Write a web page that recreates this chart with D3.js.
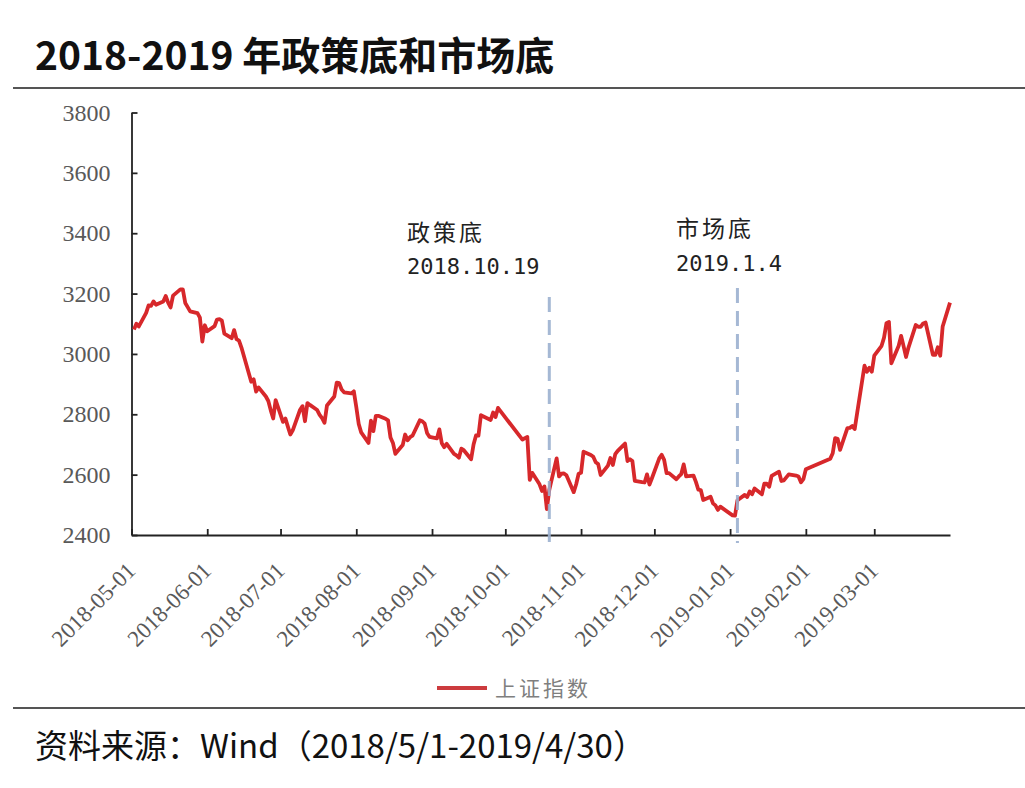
<!DOCTYPE html>
<html><head><meta charset="utf-8">
<script src="https://cdn.jsdelivr.net/npm/d3@7"></script>
<style>html,body{margin:0;padding:0;background:#fff;} svg{display:block;}</style>
</head><body><svg id="chart" width="1025" height="788"></svg>
<script>
// ---------------- data ----------------
const tradeDates = [
"2018-05-02","2018-05-03","2018-05-04","2018-05-07","2018-05-08","2018-05-09","2018-05-10","2018-05-11","2018-05-14","2018-05-15","2018-05-16","2018-05-17","2018-05-18","2018-05-21","2018-05-22","2018-05-23","2018-05-24","2018-05-25","2018-05-28","2018-05-29","2018-05-30","2018-05-31",
"2018-06-01","2018-06-04","2018-06-05","2018-06-06","2018-06-07","2018-06-08","2018-06-11","2018-06-12","2018-06-13","2018-06-14","2018-06-15","2018-06-19","2018-06-20","2018-06-21","2018-06-22","2018-06-25","2018-06-26","2018-06-27","2018-06-28","2018-06-29",
"2018-07-02","2018-07-03","2018-07-04","2018-07-05","2018-07-06","2018-07-09","2018-07-10","2018-07-11","2018-07-12","2018-07-13","2018-07-16","2018-07-17","2018-07-18","2018-07-19","2018-07-20","2018-07-23","2018-07-24","2018-07-25","2018-07-26","2018-07-27","2018-07-30","2018-07-31",
"2018-08-01","2018-08-02","2018-08-03","2018-08-06","2018-08-07","2018-08-08","2018-08-09","2018-08-10","2018-08-13","2018-08-14","2018-08-15","2018-08-16","2018-08-17","2018-08-20","2018-08-21","2018-08-22","2018-08-23","2018-08-24","2018-08-27","2018-08-28","2018-08-29","2018-08-30","2018-08-31",
"2018-09-03","2018-09-04","2018-09-05","2018-09-06","2018-09-07","2018-09-10","2018-09-11","2018-09-12","2018-09-13","2018-09-14","2018-09-17","2018-09-18","2018-09-19","2018-09-20","2018-09-21","2018-09-25","2018-09-26","2018-09-27","2018-09-28",
"2018-10-08","2018-10-09","2018-10-10","2018-10-11","2018-10-12","2018-10-15","2018-10-16","2018-10-17","2018-10-18","2018-10-19","2018-10-22","2018-10-23","2018-10-24","2018-10-25","2018-10-26","2018-10-29","2018-10-30","2018-10-31",
"2018-11-01","2018-11-02","2018-11-05","2018-11-06","2018-11-07","2018-11-08","2018-11-09","2018-11-12","2018-11-13","2018-11-14","2018-11-15","2018-11-16","2018-11-19","2018-11-20","2018-11-21","2018-11-22","2018-11-23","2018-11-26","2018-11-27","2018-11-28","2018-11-29","2018-11-30",
"2018-12-03","2018-12-04","2018-12-05","2018-12-06","2018-12-07","2018-12-10","2018-12-11","2018-12-12","2018-12-13","2018-12-14","2018-12-17","2018-12-18","2018-12-19","2018-12-20","2018-12-21","2018-12-24","2018-12-25","2018-12-26","2018-12-27","2018-12-28",
"2019-01-02","2019-01-03","2019-01-04","2019-01-07","2019-01-08","2019-01-09","2019-01-10","2019-01-11","2019-01-14","2019-01-15","2019-01-16","2019-01-17","2019-01-18","2019-01-21","2019-01-22","2019-01-23","2019-01-24","2019-01-25","2019-01-28","2019-01-29","2019-01-30","2019-01-31",
"2019-02-01","2019-02-11","2019-02-12","2019-02-13","2019-02-14","2019-02-15","2019-02-18","2019-02-19","2019-02-20","2019-02-21","2019-02-22","2019-02-25","2019-02-26","2019-02-27","2019-02-28",
"2019-03-01","2019-03-04","2019-03-05","2019-03-06","2019-03-07","2019-03-08","2019-03-11","2019-03-12","2019-03-13","2019-03-14","2019-03-15","2019-03-18","2019-03-19","2019-03-20","2019-03-21","2019-03-22","2019-03-25","2019-03-26","2019-03-27","2019-03-28","2019-03-29",
"2019-04-01"
];
const closes = [
3081,3100,3091,3136,3161,3159,3174,3163,3174,3192,3170,3154,3193,3214,3214,3169,3155,3141,3135,3120,3041,3095,
3075,3092,3114,3115,3110,3067,3052,3079,3049,3044,3021,2908,2916,2875,2889,2859,2844,2813,2786,2847,
2775,2786,2759,2733,2747,2815,2827,2777,2837,2831,2814,2798,2787,2772,2829,2859,2905,2903,2882,2873,2869,2876,
2824,2768,2740,2705,2779,2744,2795,2795,2785,2780,2723,2705,2669,2698,2733,2714,2724,2729,2780,2777,2769,2737,2725,
2720,2750,2704,2691,2702,2669,2664,2656,2686,2681,2651,2700,2730,2729,2797,2781,2806,2791,2821,
2716,2721,2725,2583,2606,2568,2546,2561,2486,2550,2654,2594,2603,2604,2598,2542,2568,2603,
2606,2676,2665,2659,2641,2635,2599,2630,2655,2632,2668,2679,2703,2645,2651,2645,2579,2575,2574,2601,2567,2588,
2654,2666,2649,2605,2605,2585,2594,2602,2634,2594,2597,2576,2550,2549,2516,2527,2505,2498,2483,2494,
2465,2464,2515,2533,2526,2544,2535,2554,2535,2570,2570,2560,2596,2610,2579,2581,2591,2601,2597,2594,2575,2585,
2618,2653,2671,2721,2719,2682,2754,2755,2761,2751,2804,2961,2941,2954,2941,
2994,3027,3054,3102,3106,2969,3027,3060,3026,2990,3021,3096,3090,3090,3101,3104,2997,2997,3022,2994,3091,
3170
];
const xTickDates = ["2018-05-01","2018-06-01","2018-07-01","2018-08-01","2018-09-01","2018-10-01","2018-11-01","2018-12-01","2019-01-01","2019-02-01","2019-03-01"];
const xDomain = ["2018-05-01","2019-04-01"];
const yTicks = [2400,2600,2800,3000,3200,3400,3600,3800];
const markerDates = ["2018-10-19","2019-01-04"];
const markerNames = ["政策底","市场底"];
const markerLabels = ["2018.10.19","2019.1.4"];
const seriesName = "上证指数";
const titleText = "2018-2019 年政策底和市场底";
const sourceText = "资料来源：Wind（2018/5/1-2019/4/30）";

// ---------------- layout / style ----------------
const markerTopY = [297, 288];
const markerLabelX = [407, 676];
const markerNameY = [241, 237];
const markerLabelY = [274, 271];

const parse = d3.timeParse("%Y-%m-%d");
const svg = d3.select("#chart");
const x = d3.scaleTime().domain(xDomain.map(parse)).range([131.5, 950]);
const y = d3.scaleLinear().domain([2400, 3800]).range([535, 112.5]);

// title
svg.append("text").attr("x", 35).attr("y", 70)
  .attr("font-family", "'Noto Sans CJK SC', sans-serif").attr("font-weight", 700)
  .attr("font-size", 39).attr("fill", "#111").text(titleText);
svg.append("line").attr("x1", 13).attr("x2", 1025).attr("y1", 88).attr("y2", 88)
  .attr("stroke", "#555").attr("stroke-width", 2);

// axes
const axisFont = "'Liberation Serif', 'Times New Roman', serif";
const gx = svg.append("g").attr("transform", "translate(0,535)")
  .call(d3.axisBottom(x).tickValues(xTickDates.map(parse))
    .tickFormat(d3.timeFormat("%Y-%m-%d")).tickSizeInner(-6).tickSizeOuter(0).tickPadding(0));
gx.selectAll("text").attr("y", 0).attr("dy", 0).attr("text-anchor", "end")
  .attr("transform", "translate(5,37) rotate(-45)");
const gy = svg.append("g").attr("transform", "translate(131.5,0)")
  .call(d3.axisLeft(y).tickValues(yTicks).tickFormat(d3.format("d"))
    .tickSizeInner(-6).tickSizeOuter(0).tickPadding(21));
[gx, gy].forEach(g => {
  g.select(".domain").attr("stroke", "#222").attr("stroke-width", 1.8);
  g.selectAll(".tick line").attr("stroke", "#222").attr("stroke-width", 1.8);
  g.selectAll("text").attr("font-family", axisFont).attr("fill", "#595959");
});
gx.selectAll("text").attr("font-size", 23);
gy.selectAll("text").attr("font-size", 24);

// series
const data = tradeDates.map((d, i) => ({ date: parse(d), value: closes[i] }));
svg.append("path").datum(data)
  .attr("fill", "none").attr("stroke", "#d7282b").attr("stroke-width", 3.8)
  .attr("stroke-linejoin", "round")
  .attr("d", d3.line().x(d => x(d.date)).y(d => y(d.value)));

// marker dashed lines + labels
markerDates.forEach((d, i) => {
  const mx = x(parse(d));
  svg.append("line").attr("x1", mx).attr("x2", mx).attr("y1", markerTopY[i]).attr("y2", 543)
    .attr("stroke", "#9cb1d0").attr("stroke-width", 3).attr("stroke-dasharray", "15,8")
    .attr("opacity", 0.9);
  svg.append("text").attr("x", markerLabelX[i]).attr("y", markerNameY[i])
    .attr("font-family", "'Noto Sans CJK SC', sans-serif").attr("font-size", 23)
    .attr("letter-spacing", 3).attr("fill", "#222").text(markerNames[i]);
  svg.append("text").attr("x", markerLabelX[i]).attr("y", markerLabelY[i])
    .attr("font-family", "'DejaVu Sans Mono', monospace").attr("font-size", 22)
    .attr("fill", "#222").text(markerLabels[i]);
});

// legend
svg.append("line").attr("x1", 437).attr("x2", 487).attr("y1", 688).attr("y2", 688)
  .attr("stroke", "#cc3b3e").attr("stroke-width", 4);
svg.append("text").attr("x", 495).attr("y", 696)
  .attr("font-family", "'Noto Sans CJK SC', sans-serif").attr("font-size", 21)
  .attr("letter-spacing", 3).attr("fill", "#7f7f7f").text(seriesName);

// footer
svg.append("line").attr("x1", 13).attr("x2", 1025).attr("y1", 708).attr("y2", 708)
  .attr("stroke", "#555").attr("stroke-width", 2);
svg.append("text").attr("x", 35).attr("y", 758)
  .attr("font-family", "'Noto Sans CJK SC', sans-serif").attr("font-size", 33)
  .attr("fill", "#111").text(sourceText);
</script></body></html>
